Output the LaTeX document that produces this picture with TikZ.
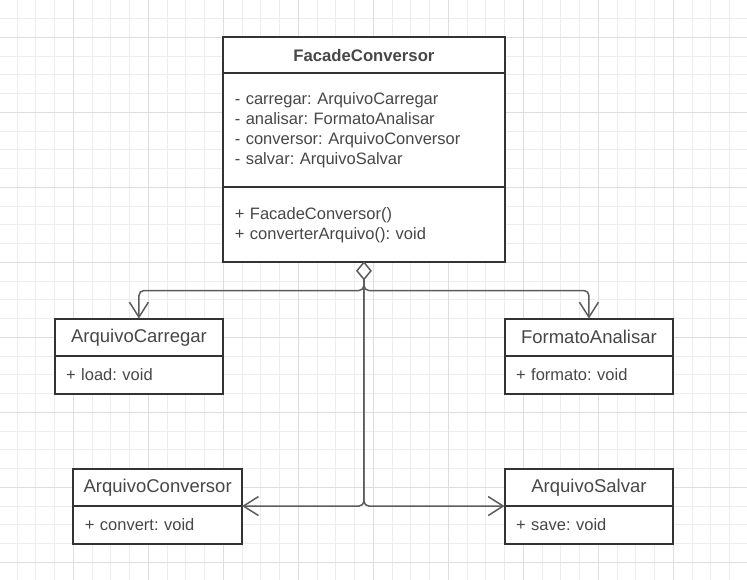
\documentclass[tikz,border=0pt]{standalone}
\usepackage{fontspec}
\setmainfont{Liberation Sans}
\usetikzlibrary{arrows.meta,positioning,shapes.geometric}

\colorlet{umlline}{black!80}
\colorlet{umltext}{black!72}
\colorlet{linkcol}{black!64}

\begin{document}
\frenchspacing
\begin{tikzpicture}[x=18.75pt,y=-18.75pt,
    every node/.style={outer sep=0pt,text=umltext},
    gridminor/.style={draw=black!7,line width=1pt,step=18.75pt},
    gridmajor/.style={draw=black!13,line width=1pt},
    classname/.style={draw=umlline,line width=1.9pt,fill=white,minimum width=168.75pt,
      minimum height=37.5pt,inner sep=0pt,font=\fontsize{18.5}{20}\selectfont},
    members/.style={draw=umlline,line width=1.9pt,fill=white,minimum width=168.75pt,
      minimum height=37.5pt,text width=145.75pt,inner xsep=11.5pt,inner ysep=0pt,
      align=left,font=\frenchspacing\fontsize{16.5}{20}\selectfont},
    facadename/.style={classname,minimum width=281.25pt,minimum height=35.6pt,
      font=\bfseries\fontsize{16.7}{20}\selectfont},
    facadepart/.style={members,minimum width=281.25pt,text width=258.25pt},
    aggr/.style={diamond,draw=linkcol,fill=white,line width=1.5pt,minimum width=14pt,
      minimum height=17pt,inner sep=0pt},
    link/.style={draw=linkcol,line width=1.5pt,rounded corners=5pt,
      -{Straight Barb[length=15pt,width=19pt]}}]
  \useasboundingbox (0.09,0.01) rectangle (39.93,30.94);
  % background grid
  \draw[gridminor] (0.09,0.01) grid (39.93,30.94);
  \foreach \i in {0,4,...,36} \draw[gridmajor] (\i,0.01) -- (\i,30.94);
  \foreach \j in {2,6,...,30} \draw[gridmajor] (0.09,\j) -- (39.93,\j);

  % facade class
  \node[facadename,anchor=north west] (facade) at (12,2) {FacadeConversor};
  \node[facadepart,minimum height=114.4pt,below=0pt of facade] (fattr)
    {- carregar: ArquivoCarregar\\- analisar: FormatoAnalisar\\
     - conversor: ArquivoConversor\\- salvar: ArquivoSalvar};
  \node[facadepart,minimum height=75pt,below=0pt of fattr] (fmeth)
    {+ FacadeConversor()\\+ converterArquivo(): void};
  \node[aggr,below=0pt of fmeth] (agg) {};

  % subsystem classes
  \node[classname,anchor=north west] (carregar) at (3,17) {ArquivoCarregar};
  \node[members,below=0pt of carregar] (carregarm) {+ load: void};
  \node[classname,anchor=north west] (formato) at (27,17) {FormatoAnalisar};
  \node[members,below=0pt of formato] (formatom) {+ formato: void};
  \node[classname,anchor=north west] (conversor) at (4,25) {ArquivoConversor};
  \node[members,below=0pt of conversor] (conversorm) {+ convert: void};
  \node[classname,anchor=north west] (salvar) at (27,25) {ArquivoSalvar};
  \node[members,below=0pt of salvar] (salvarm) {+ save: void};

  \coordinate (split) at ([yshift=-11.2pt]agg.south);
  \draw[link] (agg.south) -- (split) -| (carregar.north);
  \draw[link] (agg.south) -- (split) -| (formato.north);
  \draw[link] (agg.south) |- (conversor.south east);
  \draw[link] (agg.south) |- (salvar.south west);
\end{tikzpicture}
\end{document}
